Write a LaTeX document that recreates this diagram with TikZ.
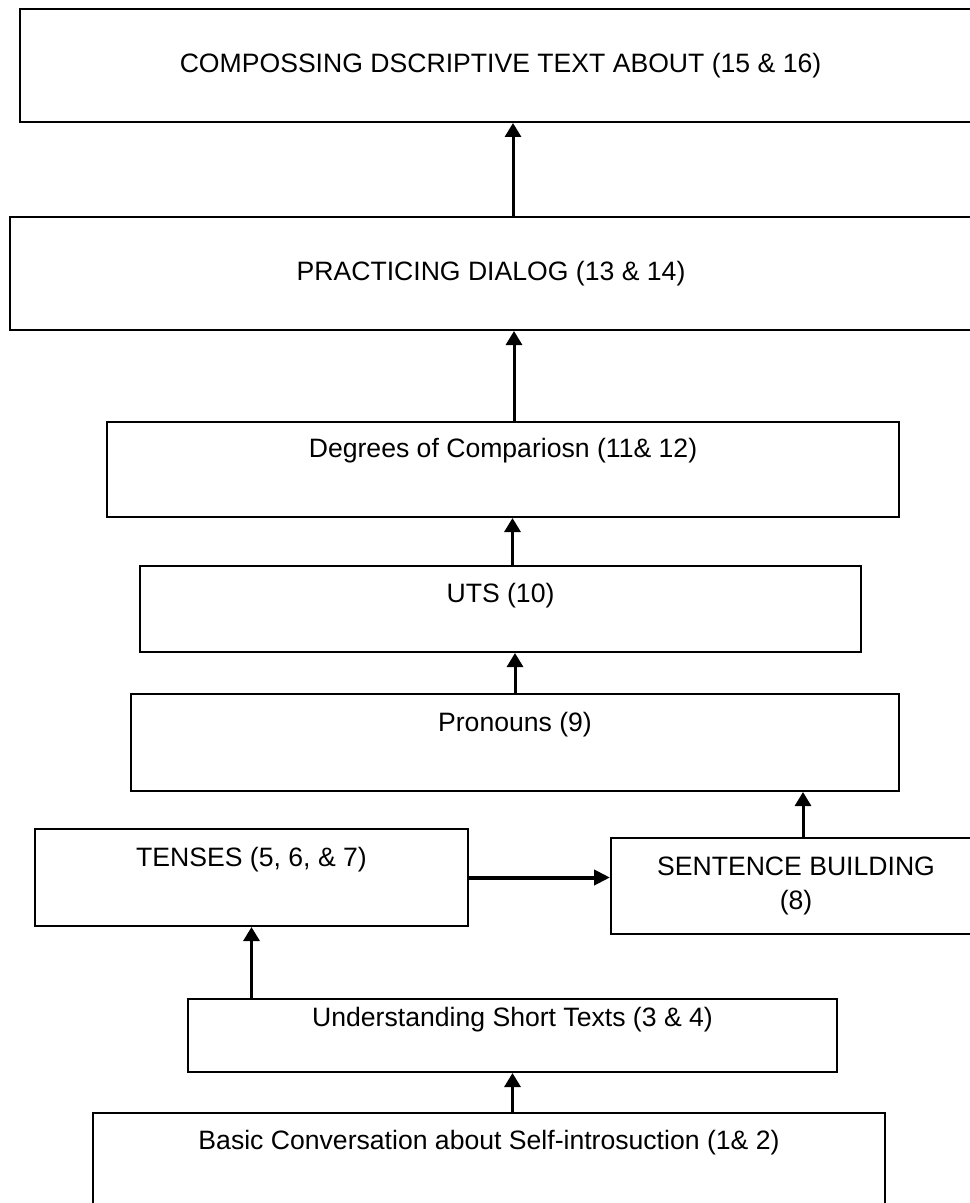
\documentclass[tikz,border=0pt]{standalone}
\usepackage{fontspec}
\setmainfont{Liberation Sans}
\usetikzlibrary{arrows.meta}

\begin{document}
\begin{tikzpicture}[x=0.5pt, y=-0.5pt,
    every node/.style={font=\fontsize{13.3}{17}\selectfont},
    box/.style={draw, line width=1pt, inner sep=0pt},
    flow/.style={-{Triangle[width=8pt,length=7pt]}, line width=1.5pt},
    bigflow/.style={-{Triangle[width=7.5pt,length=8pt]}, line width=2pt}]
    \useasboundingbox (0,0) rectangle (969,1203);
    \node[box, minimum width=480.5pt, minimum height=56.5pt] (compose) at (500.5,65.5) {COMPOSSING DSCRIPTIVE TEXT ABOUT (15 \& 16)};
    \node[box, minimum width=481pt, minimum height=56.5pt] (dialog) at (491,273.5) {PRACTICING DIALOG (13 \& 14)};
    \node[box, minimum width=396pt, text height=17.75pt, text depth=29.75pt] (degrees) at (503,469.5) {Degrees of Compariosn (11\& 12)};
    \node[box, minimum width=360.5pt, text height=18.25pt, text depth=24.75pt] (uts) at (500.5,609) {UTS (10)};
    \node[box, minimum width=384pt, text height=18.75pt, text depth=29.75pt] (pronouns) at (515,742.5) {Pronouns (9)};
    \node[box, minimum width=216.5pt, text height=18.75pt, text depth=29.75pt] (tenses) at (251.5,877.5) {TENSES (5, 6, \& 7)};
    \node[box, minimum width=185pt, minimum height=48pt, align=center] (sentence) at (796,886) {SENTENCE BUILDING\\(8)};
    \node[box, minimum width=324.5pt, text height=13.75pt, text depth=22.75pt] (understanding) at (512.5,1035.5) {Understanding Short Texts (3 \& 4)};
    \node[box, minimum width=396pt, text height=18.25pt, text depth=32.75pt] (basic) at (489,1164) {Basic Conversation about Self-introsuction (1\& 2)};
    \draw[flow] ([xshift=11pt]dialog.north) -- ([xshift=11pt]dialog.north |- compose.south);
    \draw[flow] ([xshift=5.5pt]degrees.north) -- ([xshift=5.5pt]degrees.north |- dialog.south);
    \draw[flow] ([xshift=6pt]uts.north) -- ([xshift=6pt]uts.north |- degrees.south);
    \draw[flow] (pronouns.north) -- (pronouns.north |- uts.south);
    \draw[flow] ([xshift=3.5pt]sentence.north) -- ([xshift=3.5pt]sentence.north |- pronouns.south);
    \draw[bigflow] (tenses.east) -- (tenses.east -| sentence.west);
    \draw[flow] (tenses.south |- understanding.north) -- (tenses.south);
    \draw[flow] (understanding.south |- basic.north) -- (understanding.south);
\end{tikzpicture}
\end{document}
